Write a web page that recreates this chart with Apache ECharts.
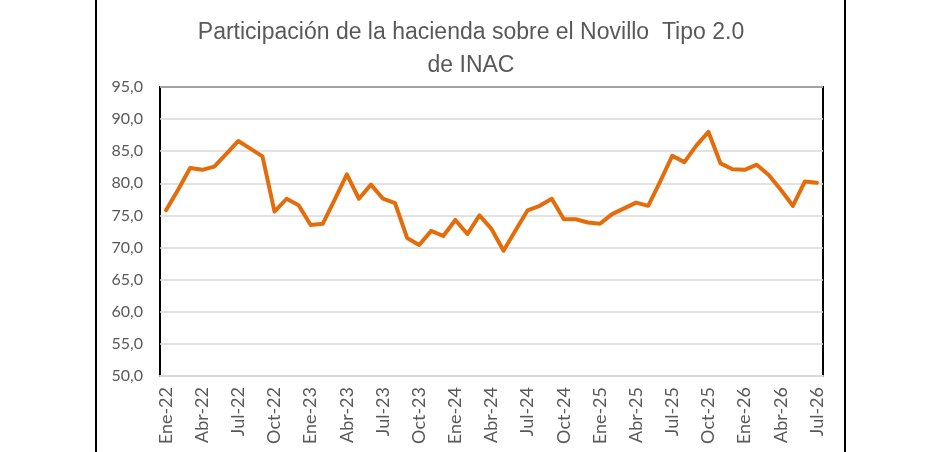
<!DOCTYPE html>
<html>
<head>
<meta charset="utf-8">
<script src="https://cdn.jsdelivr.net/npm/echarts@6/dist/echarts.min.js"></script>
<style>
  html, body { margin: 0; padding: 0; background: #fff; }
  #chart { width: 942px; height: 452px; }
</style>
</head>
<body>
<div id="chart"></div>
<script>
// meses Ene-22 .. Jul-26
const categories = [
  'Ene-22','Feb-22','Mar-22','Abr-22','May-22','Jun-22','Jul-22','Ago-22','Sep-22','Oct-22','Nov-22','Dic-22',
  'Ene-23','Feb-23','Mar-23','Abr-23','May-23','Jun-23','Jul-23','Ago-23','Sep-23','Oct-23','Nov-23','Dic-23',
  'Ene-24','Feb-24','Mar-24','Abr-24','May-24','Jun-24','Jul-24','Ago-24','Sep-24','Oct-24','Nov-24','Dic-24',
  'Ene-25','Feb-25','Mar-25','Abr-25','May-25','Jun-25','Jul-25','Ago-25','Sep-25','Oct-25','Nov-25','Dic-25',
  'Ene-26','Feb-26','Mar-26','Abr-26','May-26','Jun-26','Jul-26'
]

// participación (%)
const participacion = [
  75.8, 79.0, 82.4, 82.1, 82.6, 84.6, 86.6, 85.4, 84.2, 75.6, 77.6, 76.6,
  73.5, 73.7, 77.5, 81.4, 77.6, 79.8, 77.6, 76.9, 71.5, 70.4, 72.6, 71.8,
  74.3, 72.1, 75.0, 72.9, 69.5, 72.7, 75.8, 76.5, 77.6, 74.4, 74.4, 73.9,
  73.7, 75.2, 76.1, 77.0, 76.5, 80.3, 84.3, 83.3, 85.9, 88.0, 83.1, 82.2,
  82.1, 82.9, 81.3, 79.0, 76.5, 80.3, 80.1
]

const yMin = 50
const yMax = 95
const yStep = 5

const chart = echarts.init(document.getElementById('chart'))

chart.setOption({
  animation: false,
  title: {
    text: 'Participación de la hacienda sobre el Novillo  Tipo 2.0\nde INAC',
    left: 'center',
    top: 11,
    textStyle: {
      fontFamily: "'Liberation Sans Narrow', 'Arial Narrow', 'Liberation Sans', sans-serif",
      fontSize: 23,
      fontWeight: 'normal',
      color: '#595959',
      lineHeight: 33
    }
  },
  graphic: [
    { type: 'line', shape: { x1: 96, y1: 0, x2: 96, y2: 452 }, style: { stroke: '#000', lineWidth: 2 } },
    { type: 'line', shape: { x1: 845, y1: 0, x2: 845, y2: 452 }, style: { stroke: '#000', lineWidth: 2 } }
  ],
  grid: {
    left: 160,
    top: 87,
    right: 119,
    bottom: 76,
    show: true,
    borderColor: '#000',
    borderWidth: 2
  },
  xAxis: {
    type: 'category',
    data: categories,
    boundaryGap: true,
    axisLine: { lineStyle: { color: '#d9d9d9', width: 2 } },
    axisTick: { interval: 2, length: 6, lineStyle: { color: '#d9d9d9' } },
    axisLabel: {
      interval: 2,
      rotate: 90,
      margin: 11,
      fontFamily: 'Lato, sans-serif',
      fontSize: 18,
      color: '#595959'
    }
  },
  yAxis: {
    type: 'value',
    min: yMin,
    max: yMax,
    interval: yStep,
    axisLine: { show: false },
    axisTick: { show: false },
    splitLine: { lineStyle: { color: '#d9d9d9', width: 1.5 } },
    axisLabel: {
      margin: 17,
      fontFamily: 'Lato, sans-serif',
      fontSize: 16,
      color: '#595959',
      formatter: v => v.toFixed(1).replace('.', ',')
    }
  },
  series: [{
    type: 'line',
    data: participacion,
    showSymbol: false,
    lineStyle: { color: '#E46C0A', width: 4, join: 'round', cap: 'round' }
  }]
})
</script>
</body>
</html>
